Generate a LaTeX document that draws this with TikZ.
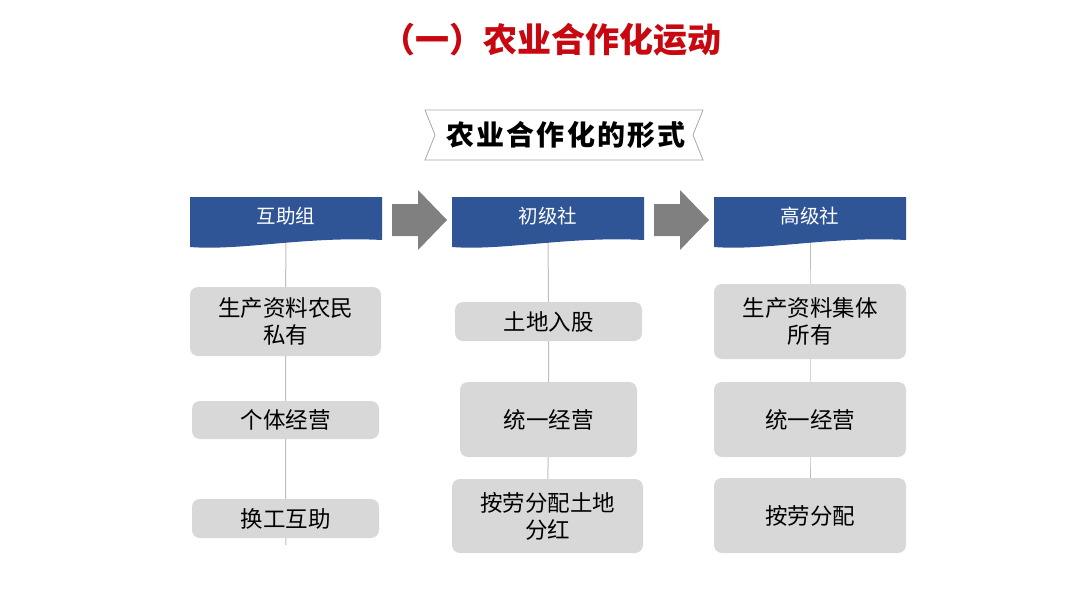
\documentclass[tikz,border=0pt]{standalone}
\usepackage{fontspec}
\setmainfont{Noto Sans CJK SC}
\usetikzlibrary{backgrounds}
\definecolor{hblue}{RGB}{47,85,151}
\definecolor{boxgray}{RGB}{216,216,216}
\definecolor{arrgray}{RGB}{128,128,128}
\definecolor{linegray}{RGB}{190,190,190}
\definecolor{titlered}{RGB}{200,8,16}
\begin{document}
\begin{tikzpicture}[x=1pt,y=-1pt,
  box/.style={fill=boxgray, rounded corners=8pt, inner sep=0pt, align=center,
    font=\fontsize{22.5}{27}\selectfont},
  headtext/.style={text=white, inner sep=0pt, font=\fontsize{19.5}{22}\selectfont},
  headshape/.style={fill=hblue},
  blockarrow/.style={fill=arrgray},
  vline/.style={draw=linegray, line width=1pt}]
\useasboundingbox (0,0) rectangle (1080,608);

% title
\node[text=titlered, font=\fontsize{34}{38}\selectfont\bfseries, inner sep=0pt] (title) at (551,40) {（一）农业合作化运动};

% banner
\draw[fill=white, draw=gray!70, line width=0.8pt] (425,110) -- (703,110) -- (693,135) -- (703,160) -- (425,160) -- (435,135) -- cycle;
\node[font=\fontsize{28}{30}\selectfont\bfseries\addfontfeature{LetterSpace=8}, inner sep=0pt] (banner) at (566,135) {农业合作化的形式};

% headers
\foreach \cx/\nm/\txt in {286/h1/互助组, 548/h2/初级社, 810/h3/高级社}{
  \fill[headshape] (\cx-96,197) -- (\cx+96,197) -- (\cx+96,240)
     .. controls (\cx+20,236) and (\cx-45,251) .. (\cx-96,247) -- cycle;
  \node[headtext] (\nm) at (\cx,216) {\txt};
}

% block arrows
\fill[blockarrow] (392,204) -- (418,204) -- (418,190) -- (447,220) -- (418,250) -- (418,236) -- (392,236) -- cycle;
\fill[blockarrow] (654,204) -- (680,204) -- (680,190) -- (709,220) -- (680,250) -- (680,236) -- (654,236) -- cycle;

% column 1
\node[box, minimum width=191pt, minimum height=69pt] (a1) at (285.5,321.5) {生产资料农民\\私有};
\node[box, minimum width=187pt, minimum height=38pt] (a2) at (285.5,420) {个体经营};
\node[box, minimum width=187pt, minimum height=39pt] (a3) at (285.5,518.5) {换工互助};
\coordinate (e1) at (286,545);

% column 2
\node[box, minimum width=187pt, minimum height=39pt] (b1) at (548.5,321.5) {土地入股};
\node[box, minimum width=177pt, minimum height=75pt] (b2) at (548.5,419.5) {统一经营};
\node[box, minimum width=191pt, minimum height=74pt] (b3) at (547.5,516) {按劳分配土地\\分红};

% column 3
\node[box, minimum width=192pt, minimum height=75pt] (c1) at (810,321.5) {生产资料集体\\所有};
\node[box, minimum width=192pt, minimum height=75pt] (c2) at (810,419.5) {统一经营};
\node[box, minimum width=192pt, minimum height=75pt] (c3) at (810,515.5) {按劳分配};

% connectors
\begin{scope}[on background layer]
\draw[vline] (h1.center) -- (a1.center) -- (a2.center) -- (a3.center) -- (e1);
\draw[vline] (h2.center) -- (b1.center) -- (b2.center) -- (b3.center);
\draw[vline] (h3.center) -- (c1.center) -- (c2.center) -- (c3.center);
\end{scope}
\end{tikzpicture}
\end{document}
